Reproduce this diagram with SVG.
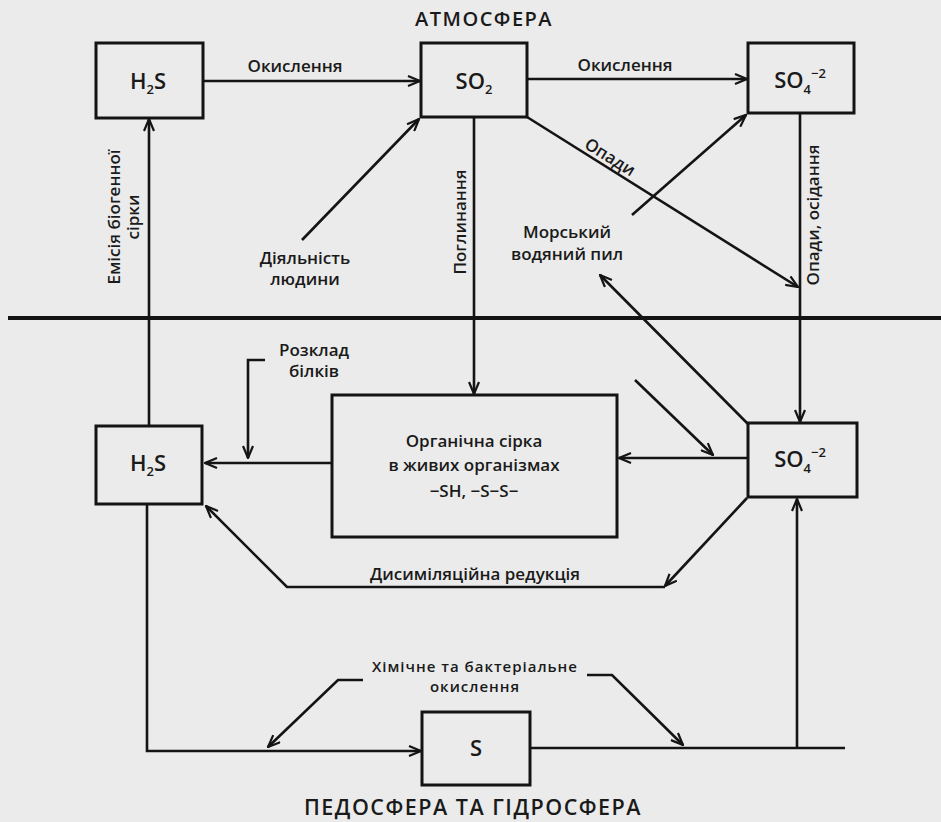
<svg xmlns="http://www.w3.org/2000/svg" width="941" height="822" viewBox="0 0 941 822">
<defs>
<marker id="arr" viewBox="0 0 14 12" refX="13" refY="6" markerWidth="14" markerHeight="12" markerUnits="userSpaceOnUse" orient="auto">
<path d="M1,1 L13,6 L1,11" fill="none" stroke="#141414" stroke-width="2.2"/>
</marker>
<style>
.bx{fill:none;stroke:#141414;stroke-width:3}
.ln{fill:none;stroke:#141414;stroke-width:2.6}
.t{font-family:"Open Sans","DejaVu Sans",sans-serif;font-weight:600;fill:#1a1a1a;text-anchor:middle}
.nm{font-size:22px}
.lb{font-size:17px}
.sm{font-size:15px;letter-spacing:1px}
.hd{font-size:20px;letter-spacing:1.5px}
</style>
</defs>
<rect width="941" height="822" fill="#ebebeb"/>

<text class="t hd" x="484" y="26">АТМОСФЕРА</text>
<text class="t hd" x="473" y="815" style="font-size:21.5px">ПЕДОСФЕРА ТА ГІДРОСФЕРА</text>

<line x1="8" y1="318" x2="941" y2="318" stroke="#141414" stroke-width="4"/>

<g id="connectors">
<line class="ln" x1="203" y1="81" x2="420" y2="81" marker-end="url(#arr)"/>
<line class="ln" x1="527" y1="79" x2="747" y2="79" marker-end="url(#arr)"/>
<line class="ln" x1="149" y1="426" x2="149" y2="119" marker-end="url(#arr)"/>
<line class="ln" x1="302" y1="240" x2="419" y2="119" marker-end="url(#arr)"/>
<line class="ln" x1="474" y1="117" x2="474" y2="394" marker-end="url(#arr)"/>
<line class="ln" x1="527" y1="117" x2="798" y2="287" marker-end="url(#arr)"/>
<line class="ln" x1="632" y1="215" x2="746" y2="115" marker-end="url(#arr)"/>
<line class="ln" x1="800" y1="113" x2="800" y2="422" marker-end="url(#arr)"/>
<line class="ln" x1="748" y1="424" x2="600" y2="275" marker-end="url(#arr)"/>
<line class="ln" x1="747" y1="458" x2="619" y2="458" marker-end="url(#arr)"/>
<line class="ln" x1="635" y1="380" x2="713" y2="455" marker-end="url(#arr)"/>
<line class="ln" x1="332" y1="463" x2="205" y2="463" marker-end="url(#arr)"/>
<polyline class="ln" points="265,360 248,360 248,458" marker-end="url(#arr)"/>
<line class="ln" x1="747" y1="498" x2="665" y2="586" marker-end="url(#arr)"/>
<polyline class="ln" points="665,587 287,587 206,506" marker-end="url(#arr)"/>
<polyline class="ln" points="147,504 147,751 421,751" marker-end="url(#arr)"/>
<line class="ln" x1="530" y1="748" x2="845" y2="748"/>
<line class="ln" x1="797" y1="748" x2="797" y2="499" marker-end="url(#arr)"/>
<polyline class="ln" points="363,680 338,680 268,747" marker-end="url(#arr)"/>
<polyline class="ln" points="587,675 612,675 683,745" marker-end="url(#arr)"/>
</g>

<g id="labels">
<text class="t lb" x="295" y="72">Окислення</text>
<text class="t lb" x="625" y="71">Окислення</text>
<text class="t lb" x="305" y="264">Діяльність</text>
<text class="t lb" x="305" y="285">людини</text>
<text class="t lb" x="567" y="238">Морський</text>
<text class="t lb" x="567" y="260">водяний пил</text>
<text class="t lb" transform="translate(607,162) rotate(32)">Опади</text>
<text class="t lb" transform="translate(120,217) rotate(-90)">Емісія біогенної</text>
<text class="t lb" transform="translate(139,217) rotate(-90)">сірки</text>
<text class="t lb" transform="translate(466,222) rotate(-90)">Поглинання</text>
<text class="t lb" transform="translate(819,215) rotate(-90)">Опади, осідання</text>
<text class="t lb" x="314" y="356">Розклад</text>
<text class="t lb" x="314" y="377">білків</text>
<text class="t lb" x="475" y="580">Дисиміляційна редукція</text>
<text class="t sm" x="475" y="672">Хімічне та бактеріальне</text>
<text class="t sm" x="475" y="692">окислення</text>
</g>

<g id="h2s_top">
<rect class="bx" x="96" y="43" width="107" height="75"/>
<text class="t nm" x="148" y="89">H<tspan font-size="13" dy="5">2</tspan><tspan dy="-5">S</tspan></text>
</g>
<g id="so2">
<rect class="bx" x="421" y="43" width="106" height="74"/>
<text class="t nm" x="474" y="89">SO<tspan font-size="13" dy="5">2</tspan></text>
</g>
<g id="so4_top">
<rect class="bx" x="748" y="43" width="106" height="70"/>
<text class="t nm" x="800" y="88">SO<tspan font-size="13" dy="6">4</tspan><tspan font-size="13" dy="-16">−2</tspan></text>
</g>
<g id="organic">
<rect class="bx" x="332" y="395" width="285" height="142"/>
<text class="t lb" x="474" y="447">Органічна сірка</text>
<text class="t lb" x="474" y="471">в живих організмах</text>
<text class="t lb" x="474" y="497">−SH, −S−S−</text>
</g>
<g id="h2s_bottom">
<rect class="bx" x="96" y="426" width="106" height="78"/>
<text class="t nm" x="148" y="471">H<tspan font-size="13" dy="5">2</tspan><tspan dy="-5">S</tspan></text>
</g>
<g id="so4_bottom">
<rect class="bx" x="748" y="423" width="109" height="74"/>
<text class="t nm" x="800" y="467">SO<tspan font-size="13" dy="6">4</tspan><tspan font-size="13" dy="-16">−2</tspan></text>
</g>
<g id="s">
<rect class="bx" x="422" y="712" width="108" height="73"/>
<text class="t nm" x="476" y="756">S</text>
</g>
</svg>
